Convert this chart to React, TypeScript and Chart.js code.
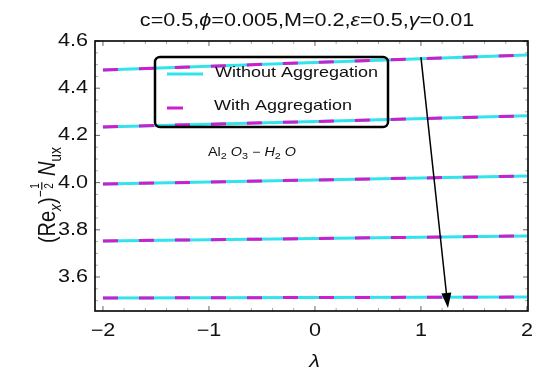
import React, { useEffect, useRef } from "react";
import { Chart, registerables } from "chart.js";

Chart.register(...registerables);

// ---- data ----
const LAMBDA = [-2, 0, 2];
const WITHOUT_1 = [4.477, 4.509, 4.541];
const WITHOUT_2 = [4.236, 4.259, 4.283];
const WITHOUT_3 = [3.994, 4.011, 4.028];
const WITHOUT_4 = [3.753, 3.763, 3.774];
const WITHOUT_5 = [3.511, 3.513, 3.515];
const WITH_1 = [4.477, 4.509, 4.541];
const WITH_2 = [4.236, 4.259, 4.283];
const WITH_3 = [3.994, 4.011, 4.028];
const WITH_4 = [3.753, 3.763, 3.774];
const WITH_5 = [3.511, 3.513, 3.515];
const X_TICKS = [-2, -1, 0, 1, 2];
const Y_TICKS = [3.6, 3.8, 4.0, 4.2, 4.4, 4.6];
const X_RANGE = [-2.075, 2.01];
const Y_RANGE = [3.456, 4.6];
const ARROW_FROM = [1.0, 4.532];
const ARROW_TO = [1.255, 3.469];
const SERIES_NAMES = ["Without Aggregation", "With Aggregation"];

const CYAN = "#33e3ea";
const MAGENTA = "#cc1ecc";
const F = '"Liberation Sans", Arial, sans-serif';
const SX = 1.2;

type Run = { t?: string; size: number; italic?: boolean; dy?: number; frac?: [string, string] };

function fontOf(r: Run) {
  return `${r.italic ? "italic " : ""}${r.size}px ${F}`;
}
function runWidth(ctx: CanvasRenderingContext2D, r: Run) {
  ctx.font = fontOf(r);
  if (r.frac) {
    return Math.max(ctx.measureText(r.frac[0]).width, ctx.measureText(r.frac[1]).width) + 3;
  }
  return ctx.measureText(r.t || "").width;
}
function drawRunsRaw(ctx: CanvasRenderingContext2D, runs: Run[], x: number, y: number, align: string) {
  const ws = runs.map((r) => runWidth(ctx, r));
  const tot = ws.reduce((a, b) => a + b, 0);
  let cx = align === "center" ? x - tot / 2 : align === "right" ? x - tot : x;
  ctx.textAlign = "left";
  runs.forEach((r, i) => {
    ctx.font = fontOf(r);
    const by = y + (r.dy || 0);
    if (r.frac) {
      const w = ws[i];
      const mid = cx + w / 2;
      ctx.textAlign = "center";
      ctx.fillText(r.frac[0], mid, by - 2);
      ctx.fillText(r.frac[1], mid, by + 2 + r.size * 0.72);
      ctx.fillRect(cx + 0.5, by - 0.5, w - 1, 1);
      ctx.textAlign = "left";
    } else {
      ctx.fillText(r.t || "", cx, by);
    }
    cx += ws[i];
  });
}
function drawRuns(ctx: CanvasRenderingContext2D, runs: Run[], x: number, y: number, align: string) {
  ctx.save();
  ctx.translate(x, y);
  ctx.scale(SX, 1);
  drawRunsRaw(ctx, runs, 0, 0, align);
  ctx.restore();
}
const fmtX = (v: number) => (v < 0 ? "\u2212" + Math.abs(v) : String(v));

const overlay = {
  id: "overlay",
  afterDraw(chart: any) {
    const { ctx, chartArea: a, scales } = chart;
    const xs = scales.x;
    const ys = scales.y;
    ctx.save();
    // minor & major ticks (inward, all four sides)
    const tick = (px: number, len: number, vertical: boolean, color: string) => {
      ctx.strokeStyle = color;
      ctx.lineWidth = 1;
      ctx.beginPath();
      if (vertical) {
        ctx.moveTo(px, a.bottom); ctx.lineTo(px, a.bottom - len);
        ctx.moveTo(px, a.top); ctx.lineTo(px, a.top + len);
      } else {
        ctx.moveTo(a.left, px); ctx.lineTo(a.left + len, px);
        ctx.moveTo(a.right, px); ctx.lineTo(a.right - len, px);
      }
      ctx.stroke();
    };
    for (let i = -10; i <= 10; i++) {
      const v = i * 0.2;
      if (i % 5 !== 0) tick(xs.getPixelForValue(v), 3, true, "#aaa");
    }
    X_TICKS.forEach((v) => tick(xs.getPixelForValue(v), 5, true, "#666"));
    for (let i = 70; i <= 92; i++) {
      const v = i * 0.05;
      if (i % 4 !== 0) tick(ys.getPixelForValue(v), 3, false, "#aaa");
    }
    Y_TICKS.forEach((v) => tick(ys.getPixelForValue(v), 5, false, "#666"));

    // frame
    ctx.strokeStyle = "#000";
    ctx.lineWidth = 1.6;
    ctx.strokeRect(a.left, a.top, a.right - a.left, a.bottom - a.top);

    // tick labels
    ctx.fillStyle = "#111";
    ctx.textBaseline = "middle";
    Y_TICKS.forEach((v) => drawRuns(ctx, [{ t: v.toFixed(1), size: 18 }], a.left - 7, ys.getPixelForValue(v), "right"));
    ctx.textBaseline = "alphabetic";
    X_TICKS.forEach((v) => drawRuns(ctx, [{ t: fmtX(v), size: 18 }], xs.getPixelForValue(v), 336, "center"));

    // axis titles
    drawRuns(ctx, [{ t: "\u03bb", size: 18, italic: true }], (a.left + a.right) / 2 + 3, 367, "center");
    ctx.save();
    ctx.translate(55, 195);
    ctx.scale(SX, 1);
    ctx.rotate(-Math.PI / 2);
    drawRunsRaw(
      ctx,
      [
        { t: "(Re", size: 20 },
        { t: "x", size: 14, italic: true, dy: 5 },
        { t: ")", size: 20 },
        { t: "\u2212", size: 12, dy: -8 },
        { frac: ["1", "2"], size: 10, dy: -11 },
        { t: " ", size: 20 },
        { t: "N", size: 20, italic: true },
        { t: "ux", size: 14, dy: 5 },
      ],
      0,
      0,
      "center"
    );
    ctx.restore();

    // title
    drawRuns(
      ctx,
      [
        { t: "c=0.5,", size: 18 },
        { t: "\u03d5", size: 18, italic: true },
        { t: "=0.005,M=0.2,", size: 18 },
        { t: "\u03b5", size: 18, italic: true },
        { t: "=0.5,", size: 18 },
        { t: "\u03b3", size: 18, italic: true },
        { t: "=0.01", size: 18 },
      ],
      307,
      26,
      "center"
    );

    // annotation
    drawRuns(
      ctx,
      [
        { t: "Al", size: 12 },
        { t: "2", size: 9, dy: 3 },
        { t: " ", size: 12 },
        { t: "O", size: 12, italic: true },
        { t: "3", size: 9, dy: 3 },
        { t: " \u2212 ", size: 12 },
        { t: "H", size: 12, italic: true },
        { t: "2", size: 9, dy: 3 },
        { t: " ", size: 12 },
        { t: "O", size: 12, italic: true },
      ],
      208,
      156,
      "left"
    );

    // legend
    ctx.strokeStyle = "#000";
    ctx.lineWidth = 2.5;
    ctx.beginPath();
    (ctx as any).roundRect(155, 57, 233, 70, 5);
    ctx.stroke();
    ctx.lineWidth = 3;
    ctx.strokeStyle = CYAN;
    ctx.beginPath(); ctx.moveTo(167, 74); ctx.lineTo(203, 74); ctx.stroke();
    ctx.strokeStyle = MAGENTA;
    ctx.beginPath(); ctx.moveTo(167, 108); ctx.lineTo(183, 108); ctx.stroke();
    ctx.fillStyle = "#111";
    ctx.textBaseline = "middle";
    drawRuns(ctx, [{ t: SERIES_NAMES[0], size: 15 }], 215, 73, "left");
    drawRuns(ctx, [{ t: SERIES_NAMES[1], size: 15 }], 214, 106, "left");
    ctx.textBaseline = "alphabetic";

    // arrow
    const x1 = xs.getPixelForValue(ARROW_FROM[0]);
    const y1 = ys.getPixelForValue(ARROW_FROM[1]);
    const x2 = xs.getPixelForValue(ARROW_TO[0]);
    const y2 = ys.getPixelForValue(ARROW_TO[1]);
    const ang = Math.atan2(y2 - y1, x2 - x1);
    const hl = 15, hw = 5;
    const bx = x2 - hl * Math.cos(ang), by = y2 - hl * Math.sin(ang);
    ctx.strokeStyle = "#000";
    ctx.lineWidth = 1.5;
    ctx.beginPath(); ctx.moveTo(x1, y1); ctx.lineTo(bx, by); ctx.stroke();
    ctx.fillStyle = "#000";
    ctx.beginPath();
    ctx.moveTo(x2, y2);
    ctx.lineTo(bx + hw * Math.sin(ang), by - hw * Math.cos(ang));
    ctx.lineTo(bx - hw * Math.sin(ang), by + hw * Math.cos(ang));
    ctx.closePath();
    ctx.fill();
    ctx.restore();
  },
};

export default function App() {
  const ref = useRef<HTMLCanvasElement | null>(null);
  useEffect(() => {
    const withouts = [WITHOUT_1, WITHOUT_2, WITHOUT_3, WITHOUT_4, WITHOUT_5];
    const withs = [WITH_1, WITH_2, WITH_3, WITH_4, WITH_5];
    const datasets: any[] = [];
    withouts.forEach((arr) =>
      datasets.push({
        label: SERIES_NAMES[0],
        data: LAMBDA.map((l, j) => ({ x: l, y: arr[j] })),
        showLine: true,
        borderColor: CYAN,
        borderWidth: 3,
        pointRadius: 0,
        tension: 0,
        order: 1,
      })
    );
    withs.forEach((arr) =>
      datasets.push({
        label: SERIES_NAMES[1],
        data: LAMBDA.map((l, j) => ({ x: l, y: arr[j] })),
        showLine: true,
        borderColor: MAGENTA,
        borderWidth: 3,
        borderDash: [15, 21],
        pointRadius: 0,
        tension: 0,
        order: 0,
      })
    );
    const chart = new Chart(ref.current as HTMLCanvasElement, {
      type: "scatter",
      data: { datasets },
      options: {
        animation: false,
        responsive: false,
        events: [],
        layout: { padding: { left: 95, right: 7, top: 41, bottom: 63 } },
        scales: {
          x: { type: "linear", display: false, min: X_RANGE[0], max: X_RANGE[1] },
          y: { type: "linear", display: false, min: Y_RANGE[0], max: Y_RANGE[1] },
        },
        plugins: { legend: { display: false }, tooltip: { enabled: false }, title: { display: false } },
      } as any,
      plugins: [overlay as any],
    });
    return () => chart.destroy();
  }, []);
  return (
    <div style={{ position: "fixed", left: 0, top: 0, width: 535, height: 374, background: "#fff" }}>
      <canvas ref={ref} width={535} height={374} />
    </div>
  );
}
